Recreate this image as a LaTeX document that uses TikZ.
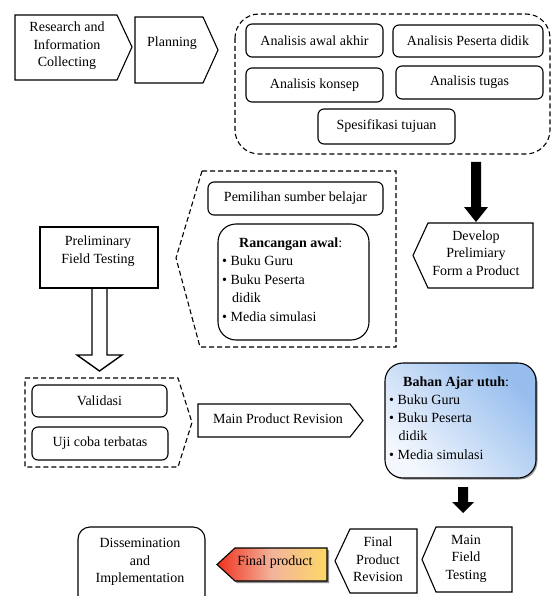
\documentclass[tikz,border=0pt]{standalone}
\usepackage{fontspec}
\setmainfont{Liberation Serif}
\definecolor{blueL}{HTML}{F4F8FE}
\definecolor{blueD}{HTML}{96BDEE}
\definecolor{fpRed}{HTML}{F0321E}
\definecolor{fpMid}{HTML}{F2B49C}
\definecolor{fpYel}{HTML}{FDD866}
\tikzset{
  ln/.style={draw, line width=1.1pt, line join=miter},
  rbox/.style={draw, line width=1.1pt, rounded corners=6pt, inner sep=0pt},
  dbox/.style={draw, line width=1.1pt, dash pattern=on 5pt off 3pt},
  txt/.style={align=center, inner sep=0pt, font=\fontsize{14}{17.5}\selectfont},
  lbl/.style={anchor=base west, inner sep=0pt, font=\fontsize{14}{17.5}\selectfont},
  blk/.style={fill=black},
}
\begin{document}
\begin{tikzpicture}[x=1pt,y=-1pt]
\useasboundingbox (0,0) rectangle (552,596);

% --- Research and Information Collecting
\draw[ln] (15,15) -- (117,15) -- (132,47) -- (117,80) -- (15,80) -- cycle;
\node[txt] (research) at (67,46) {Research and\\Information\\Collecting};

% --- Planning
\draw[ln] (135,17) -- (203,17) -- (218,50) -- (203,83) -- (135,83) -- cycle;
\node[txt] (planning) at (172,43) {Planning};

% --- Analysis group
\draw[dbox, rounded corners=24pt] (235,14) rectangle (550,154);
\node[rbox, txt, minimum width=137pt, minimum height=33pt] (aaa) at (314.5,40.5) {Analisis awal akhir};
\node[rbox, txt, minimum width=150pt, minimum height=32pt] (apd) at (468,41) {Analisis Peserta didik};
\node[rbox, txt, minimum width=137pt, minimum height=34pt] (ak) at (314.5,85) {Analisis konsep};
\node[rbox, txt, minimum width=147pt, minimum height=33pt] (at) at (469.5,82.5) {Analisis tugas};
\node[rbox, txt, minimum width=137pt, minimum height=35pt] (st) at (386.5,126.5) {Spesifikasi tujuan};

% --- black arrow 1
\coordinate (a1s) at (476,162);
\coordinate (a1e) at (476,222);
\path[blk] (471,162) -- (481,162) -- (481,207) -- (488,207) -- (a1e) -- (464,207) -- (471,207) -- cycle;

% --- Develop Preliminary Form a Product
\draw[ln] (533,223) -- (428,223) -- (413,255.5) -- (428,288) -- (533,288) -- cycle;
\node[txt] (develop) at (476,253) {Develop\\Prelimiary\\Form a Product};

% --- Pemilihan / Rancangan group
\draw[dbox] (202,171) -- (396,171) -- (396,347) -- (200,347) -- (176,258) -- cycle;
\node[rbox, txt, minimum width=175pt, minimum height=33pt] (pem) at (295.5,198.5) {Pemilihan sumber belajar};
\node[draw, line width=1.1pt, rounded corners=18pt, minimum width=151pt, minimum height=116pt, inner sep=0pt] (ranc) at (293.5,282) {};
\node[lbl] (r1) at (239,247) {\textbf{Rancangan awal}:};
\node[lbl] (r2) at (222,265.5) {\textbullet\ Buku Guru};
\node[lbl] (r3) at (222,284) {\textbullet\ Buku Peserta};
\node[lbl] (r4) at (232,302.5) {didik};
\node[lbl] (r5) at (222,321) {\textbullet\ Media simulasi};

% --- Preliminary Field Testing
\node[draw, line width=1.1pt, minimum width=118pt, minimum height=61pt, inner sep=0pt] (pft) at (99,257.5) {};
\node[txt] (pftT) at (98,251) {Preliminary\\Field Testing};

% --- hollow arrow
\coordinate (h1) at (92,288);
\coordinate (h2) at (107,288);
\draw[line width=1.4pt, line join=miter] (h1) -- (92,355) -- (77,355) -- (99.5,371) -- (122,355) -- (107,355) -- (h2);

% --- Validasi / Uji coba group
\draw[dbox] (25,378) -- (178,378) -- (192,422.5) -- (178,467) -- (25,467) -- cycle;
\node[rbox, txt, minimum width=135pt, minimum height=32pt] (val) at (99.5,401) {Validasi};
\node[rbox, txt, minimum width=136pt, minimum height=33pt] (uji) at (100,443.5) {Uji coba terbatas};

% --- Main Product Revision
\draw[ln] (198,404) -- (350,404) -- (363,420.5) -- (350,437) -- (198,437) -- cycle;
\node[txt] (mpr) at (278,419) {Main Product Revision};

% --- Bahan Ajar utuh
\fill[black!40, rounded corners=18pt] (386.5,364.5) rectangle (537.5,479.5);
\shade[left color=blueL, right color=blueD, shading angle=135, rounded corners=18pt] (385,363) rectangle (536,478);
\draw[line width=1.1pt, rounded corners=18pt] (385,363) rectangle (536,478);
\node[lbl] (b1) at (403,386.5) {\textbf{Bahan Ajar utuh}:};
\node[lbl] (b2) at (389,404.5) {\textbullet\ Buku Guru};
\node[lbl] (b3) at (389,422.5) {\textbullet\ Buku Peserta};
\node[lbl] (b4) at (398.5,440.5) {didik};
\node[lbl] (b5) at (389,459.5) {\textbullet\ Media simulasi};

% --- black arrow 2
\coordinate (a2e) at (463,513);
\path[blk] (458,487) -- (468,487) -- (468,502) -- (474,502) -- (a2e) -- (452,502) -- (458,502) -- cycle;

% --- Main Field Testing
\draw[ln] (512,527) -- (436,527) -- (422,559.5) -- (436,592) -- (512,592) -- cycle;
\node[txt] (mft) at (466,558.5) {Main\\Field\\Testing};

% --- Final Product Revision
\draw[ln] (417,529) -- (350,529) -- (335,561) -- (350,593) -- (417,593) -- cycle;
\node[txt] (fpr) at (378,559.5) {Final\\Product\\Revision};

% --- Final product
\fill[black!45] (237,550) -- (329,550) -- (329,583) -- (237,583) -- (219,565.5) -- cycle;
\shade[left color=fpRed, right color=fpYel, middle color=fpMid] (235,548) -- (327,548) -- (327,581) -- (235,581) -- (217,564.5) -- cycle;
\draw[line width=1.1pt, line join=miter] (235,548) -- (327,548) -- (327,581) -- (235,581) -- (217,564.5) -- cycle;
\node[txt] (fp) at (275,562) {Final product};

% --- Dissemination and Implementation
\draw[line width=1.1pt, rounded corners=12pt] (78,596) -- (78,527) -- (205,527) -- (205,596);
\node[txt] (dis) at (140,562) {Dissemination\\and\\Implementation};
\end{tikzpicture}
\end{document}
